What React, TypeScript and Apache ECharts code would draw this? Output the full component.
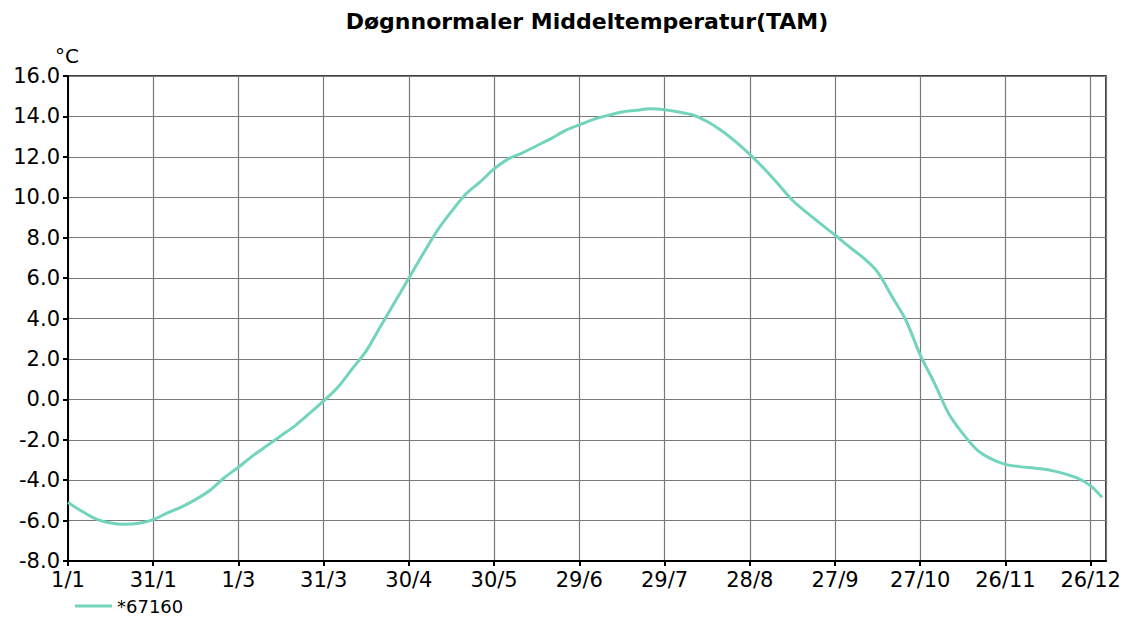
import React, { useEffect, useRef } from "react";
import * as echarts from "echarts";

const titleText = "Døgnnormaler Middeltemperatur(TAM)";
const seriesName = "*67160";
const yUnit = "°C";
const xTickLabels = ["1/1", "31/1", "1/3", "31/3", "30/4", "30/5", "29/6", "29/7", "28/8", "27/9", "27/10", "26/11", "26/12"];

const days = [
  0, 5, 10, 15, 20, 25, 30, 35, 40, 45, 50, 55, 60, 65, 70, 75, 80, 85, 90, 95,
  100, 105, 110, 115, 120, 125, 130, 135, 140, 145, 150, 155, 160, 165, 170, 175, 180, 185, 190, 195,
  200, 205, 210, 215, 220, 225, 230, 235, 240, 245, 250, 255, 260, 265, 270, 275, 280, 285, 290, 295,
  300, 305, 310, 315, 320, 325, 330, 335, 340, 345, 350, 355, 360, 364,
];
const temps = [
  -5.1, -5.55, -5.93, -6.12, -6.18, -6.13, -5.95, -5.62, -5.32, -4.95, -4.5, -3.88, -3.36, -2.8, -2.3, -1.8, -1.3, -0.7, -0.08, 0.6,
  1.5, 2.4, 3.6, 4.8, 6.0, 7.2, 8.35, 9.3, 10.15, 10.75, 11.4, 11.9, 12.2, 12.55, 12.9, 13.3, 13.58, 13.85, 14.05, 14.22,
  14.3, 14.38, 14.33, 14.22, 14.07, 13.75, 13.3, 12.75, 12.12, 11.42, 10.65, 9.85, 9.25, 8.68, 8.13, 7.55, 7.0, 6.3, 5.1, 3.9,
  2.2, 0.8, -0.7, -1.7, -2.5, -2.95, -3.22, -3.33, -3.4, -3.48, -3.65, -3.88, -4.28, -4.85,
];

export default function App() {
  const ref = useRef<HTMLDivElement>(null);
  useEffect(() => {
    if (!ref.current) return;
    const chart = echarts.init(ref.current, null, { renderer: "svg" });
    const font = "DejaVu Sans";
    chart.setOption({
      animation: false,
      backgroundColor: "#ffffff",
      title: {
        text: titleText,
        left: 587,
        textAlign: "center",
        top: 10,
        padding: 0,
        textStyle: { fontFamily: font, fontWeight: "bold", fontSize: 22, color: "#000" },
      },
      legend: {
        show: true,
        left: 75,
        top: 597,
        padding: 0,
        itemWidth: 37,
        itemHeight: 3,
        icon: "rect",
        itemGap: 6,
        data: [{ name: seriesName, icon: "rect" }],
        textStyle: { fontFamily: font, fontSize: 18, lineHeight: 16, color: "#000", padding: [0, 0, 0, 0] },
      },
      grid: {
        left: 68,
        right: 18,
        top: 76,
        bottom: 56,
        show: true,
        borderColor: "#000",
        borderWidth: 1.5,
        containLabel: false,
      },
      xAxis: {
        type: "value",
        min: 0,
        max: 365.4,
        interval: 30,
        axisLine: { show: true, onZero: false, lineStyle: { color: "#000", width: 2 } },
        axisTick: { show: true, length: 5, lineStyle: { color: "#000", width: 2 } },
        splitLine: { show: true, lineStyle: { color: "#7a7a7a", width: 1.2 } },
        axisLabel: {
          fontFamily: font,
          fontSize: 21,
          color: "#000",
          margin: 8,
          showMaxLabel: false,
          formatter: (v: number) => {
            const i = Math.round(v / 30);
            return Math.abs(v - i * 30) < 0.01 && i < xTickLabels.length ? xTickLabels[i] : "";
          },
        },
      },
      yAxis: {
        type: "value",
        min: -8,
        max: 16,
        interval: 2,
        name: yUnit,
        nameLocation: "end",
        nameGap: 10,
        nameTextStyle: { fontFamily: font, fontSize: 20, color: "#000", align: "center", padding: [0, 0, 0, -2] },
        axisLine: { show: true, onZero: false, lineStyle: { color: "#000", width: 2 } },
        axisTick: { show: true, length: 5, lineStyle: { color: "#000", width: 2 } },
        splitLine: { show: true, lineStyle: { color: "#7a7a7a", width: 1.2 } },
        axisLabel: {
          fontFamily: font,
          fontSize: 21,
          color: "#000",
          margin: 8,
          formatter: (v: number) => v.toFixed(1),
        },
      },
      series: [
        {
          name: seriesName,
          type: "line",
          smooth: 0.3,
          showSymbol: false,
          symbol: "none",
          data: days.map((d, i) => [d, temps[i]]),
          lineStyle: { color: "#72d4bd", width: 3 },
          itemStyle: { color: "#72d4bd" },
        },
      ],
    });
    return () => chart.dispose();
  }, []);
  return <div ref={ref} style={{ width: 1124, height: 617, position: "absolute", left: 0, top: 0 }} />;
}
